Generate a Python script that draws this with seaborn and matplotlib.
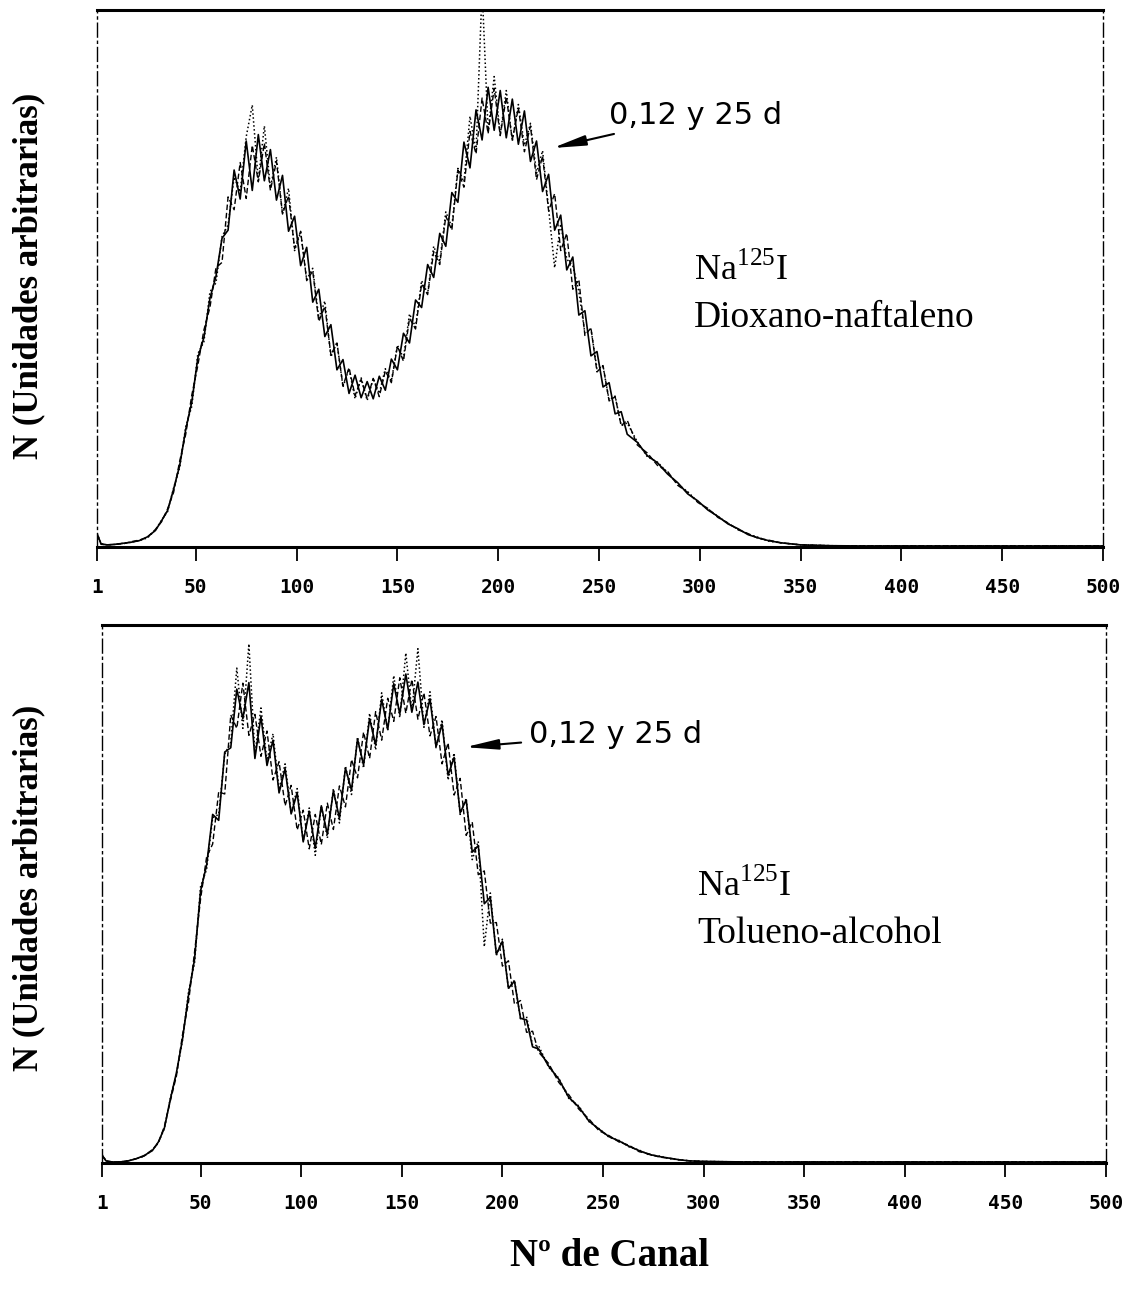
import matplotlib
matplotlib.use("Agg")
import matplotlib.pyplot as plt
import seaborn as sns

# ---------------- Na125I en dioxano-naftaleno ----------------
canal_dn = [1, 3, 6, 10, 14, 18, 22, 26, 30, 33, 36,
            39, 42, 45, 48, 51, 54, 57, 60,
            63, 66, 69, 72, 75, 78, 81, 84, 87, 90, 93, 96,
            99, 102, 105, 108, 111, 114, 117, 120, 123, 126, 129, 132,
            135, 138, 141, 144, 147, 150, 153, 156, 159, 162, 165, 168,
            171, 174, 177, 180, 183, 186, 189, 192, 195, 198, 201, 204,
            207, 210, 213, 216, 219, 222, 225, 228, 231, 234, 237, 240,
            243, 246, 249, 252, 255, 258, 261, 264,
            269, 274, 279, 284, 289, 294, 299, 304, 309, 314, 319, 324, 329, 334,
            340, 350, 365, 380, 400, 430, 460, 500]

dn_0d = [2.5, 0.6, 0.4, 0.5, 0.7, 0.9, 1.2, 1.9, 3.1, 4.9, 6.8,
         10.8, 15.2, 21.9, 27.0, 35.2, 39.0, 46.3, 50.4,
         57.5, 59.0, 70.2, 64.8, 75.6, 66.4, 76.8, 68.2, 74.0, 64.6, 69.2, 58.8,
         61.6, 52.4, 55.8, 45.6, 48.0, 39.2, 41.4, 33.0, 34.9, 28.6, 32.0, 27.8,
         30.8, 27.6, 31.8, 29.2, 35.0, 33.0, 39.8, 38.0, 46.0, 44.6, 52.6, 50.2,
         58.4, 56.0, 66.0, 64.2, 75.4, 70.6, 81.4, 75.8, 85.6, 77.6, 85.0, 76.2,
         83.4, 75.0, 81.2, 71.8, 75.6, 66.2, 69.4, 59.0, 61.8, 51.6, 54.0, 43.2,
         44.0, 35.6, 36.4, 29.8, 30.6, 24.8, 25.2, 21.0,
         19.5, 17.0, 15.7, 13.6, 12.0, 9.9, 8.6, 6.9, 5.7, 4.3, 3.4, 2.3, 1.7, 1.2,
         0.8, 0.4, 0.25, 0.2, 0.2, 0.2, 0.2, 0.2]

dn_12d = [2.3, 0.5, 0.4, 0.5, 0.6, 1.0, 1.3, 1.8, 3.3, 4.7, 7.1,
          10.2, 16.0, 21.0, 28.3, 33.8, 40.4, 44.6, 52.0,
          53.0, 65.2, 62.8, 71.6, 64.9, 74.8, 68.0, 75.2, 66.4, 71.8, 62.0, 65.4,
          55.6, 58.8, 49.6, 51.4, 42.0, 44.8, 35.8, 38.0, 30.0, 33.4, 28.2, 31.2,
          27.6, 31.4, 28.0, 32.8, 30.6, 37.4, 34.6, 42.6, 40.6, 49.0, 47.0, 55.0,
          52.6, 61.6, 59.0, 70.2, 67.0, 77.4, 73.2, 83.6, 77.0, 85.4, 76.6, 83.8,
          75.8, 81.8, 73.6, 78.4, 68.4, 72.8, 62.6, 65.8, 55.2, 58.4, 48.0, 49.8,
          39.4, 40.8, 32.6, 33.8, 27.2, 28.0, 22.6, 23.6,
          19.0, 17.5, 15.2, 14.1, 11.5, 10.2, 8.3, 7.2, 5.5, 4.5, 3.2, 2.5, 1.6, 1.3,
          0.8, 0.4, 0.25, 0.2, 0.2, 0.2, 0.2, 0.2]

dn_25d = [2.6, 0.6, 0.4, 0.5, 0.7, 0.9, 1.2, 1.7, 3.2, 5.0, 6.6,
          11.0, 14.8, 22.4, 26.2, 36.0, 38.2, 47.5, 49.2,
          57.8, 60.0, 68.9, 66.1, 76.4, 82.3, 68.2, 78.4, 66.9, 72.6, 62.0, 66.8,
          55.2, 58.6, 49.8, 51.9, 42.6, 45.8, 35.4, 38.1, 29.8, 33.2, 27.6, 31.5,
          27.3, 31.4, 28.6, 33.2, 30.9, 37.6, 35.2, 43.4, 41.0, 49.6, 47.2, 56.0,
          53.1, 62.4, 59.6, 70.5, 68.0, 80.2, 73.5, 104.0, 77.4, 87.6, 76.8, 85.0,
          75.6, 82.4, 74.8, 78.9, 69.6, 73.8, 63.0, 52.0, 60.2, 53.6, 52.4, 47.6,
          39.8, 40.6, 33.2, 33.6, 27.4, 28.1, 22.6, 23.1,
          19.6, 16.8, 15.8, 13.9, 11.7, 10.3, 8.4, 7.1, 5.7, 4.4, 3.3, 2.4, 1.8, 1.1,
          0.8, 0.4, 0.25, 0.2, 0.2, 0.2, 0.2, 0.2]

# ---------------- Na125I en tolueno-alcohol ----------------
canal_ta = [1, 3, 6, 10, 14, 18, 22, 26, 29, 32, 35,
            38, 41, 44, 47, 50, 53, 56, 59, 62, 65,
            68, 71, 74, 77, 80, 83, 86, 89, 92, 95,
            98, 101, 104, 107, 110, 113, 116, 119, 122, 125,
            128, 131, 134, 137, 140, 143, 146, 149, 152, 155,
            158, 161, 164, 167, 170, 173, 176, 179, 182, 185,
            188, 191, 194, 197, 200, 203, 206, 209, 212, 215,
            218,
            223, 228, 233, 238, 243, 248, 253, 258, 263, 268, 273, 278, 283, 288, 293,
            300, 320, 350, 380, 420, 460, 500]

ta_0d = [1.5, 0.4, 0.2, 0.2, 0.4, 0.8, 1.4, 2.3, 3.9, 6.5, 11.9,
         16.8, 23.0, 31.2, 37.9, 50.6, 55.4, 64.8, 63.7, 76.4, 77.2,
         88.1, 82.6, 89.3, 75.2, 83.0, 73.9, 78.6, 68.8, 73.3, 64.9,
         68.8, 59.7, 65.4, 58.5, 66.4, 61.1, 69.2, 64.1, 73.4, 69.3,
         78.8, 74.0, 82.6, 77.7, 86.2, 80.6, 89.1, 83.5, 90.9, 83.8,
         89.4, 81.5, 86.3, 77.4, 81.6, 72.1, 75.4, 65.1, 67.5, 57.8,
         59.0, 48.2, 49.4, 38.8, 41.2, 32.5, 33.8, 26.9, 26.6, 21.6,
         21.2,
         18.0, 15.6, 12.2, 10.4, 7.8, 6.3, 4.9, 4.1, 3.1, 2.3, 1.6, 1.2, 0.9, 0.6, 0.4,
         0.3, 0.2, 0.2, 0.2, 0.2, 0.2, 0.2]

ta_12d = [1.4, 0.4, 0.2, 0.2, 0.4, 0.8, 1.3, 2.5, 3.7, 6.8, 11.6,
          16.2, 23.8, 29.9, 39.2, 49.1, 56.9, 59.3, 69.0, 68.6, 83.3,
          80.8, 89.2, 79.5, 83.4, 75.6, 80.3, 71.2, 74.6, 66.4, 70.2,
          61.9, 65.6, 58.4, 64.8, 59.2, 66.9, 62.0, 70.1, 66.2, 75.0,
          71.6, 80.1, 75.2, 83.9, 78.6, 86.4, 82.1, 90.2, 83.6, 89.9,
          82.5, 87.4, 79.4, 83.0, 74.2, 78.1, 68.4, 71.5, 60.9, 63.4,
          53.6, 54.3, 44.6, 44.7, 36.6, 37.6, 29.5, 30.2, 24.3, 24.5,
          20.6,
          18.5, 15.0, 12.7, 10.0, 8.2, 6.0, 5.1, 3.9, 3.3, 2.1, 1.7, 1.1, 0.9, 0.6, 0.4,
          0.3, 0.2, 0.2, 0.2, 0.2, 0.2, 0.2]

ta_25d = [1.6, 0.4, 0.2, 0.2, 0.4, 0.8, 1.3, 2.4, 3.8, 6.4, 12.1,
          16.6, 22.8, 31.8, 37.2, 51.4, 54.6, 64.2, 64.8, 76.0, 78.2,
          92.0, 80.8, 96.5, 76.0, 84.6, 74.8, 79.8, 69.4, 74.2, 65.0,
          69.6, 59.8, 66.0, 57.2, 66.4, 60.4, 69.6, 63.2, 73.8, 68.5,
          79.2, 73.4, 83.6, 76.8, 87.4, 80.4, 90.6, 82.8, 94.8, 84.0,
          95.6, 81.0, 87.6, 77.2, 82.4, 71.2, 76.2, 64.8, 67.8, 56.4,
          59.8, 40.2, 50.2, 38.6, 41.6, 32.4, 34.0, 26.8, 27.2, 21.9,
          21.8,
          17.8, 15.8, 12.0, 10.6, 7.7, 6.4, 4.8, 4.2, 3.0, 2.4, 1.5, 1.3, 0.8, 0.6, 0.4,
          0.3, 0.2, 0.2, 0.2, 0.2, 0.2, 0.2]

canal_ticks = [1, 50, 100, 150, 200, 250, 300, 350, 400, 450, 500]

sns.set_theme(style="white")
plt.rcParams["font.family"] = ["DejaVu Sans"]
plt.rcParams["text.color"] = "black"
plt.rcParams["xtick.color"] = "black"
plt.rcParams["axes.labelcolor"] = "black"
plt.rcParams["mathtext.fontset"] = "custom"
plt.rcParams["mathtext.rm"] = "Liberation Serif"

fig = plt.figure(figsize=(11.27, 12.96), dpi=100)
ax_top = fig.add_axes([0.0861, 0.5779, 0.8926, 0.4144])
ax_bot = fig.add_axes([0.0905, 0.1026, 0.8909, 0.4151])

line_styles = [("0 d", "-", 1.2), ("12 d", (0, (4, 2)), 1.0), ("25 d", (0, (1, 1.6)), 1.1)]


def draw_panel(ax, canal, series, sample, note_xy, tip_xy):
    for (lab, ls, lw), vals in zip(line_styles, series):
        sns.lineplot(x=canal, y=vals, ax=ax, color="black", linestyle=ls,
                     linewidth=lw, estimator=None, sort=False, label=lab,
                     legend=False)
    ax.set_xlim(1, 500)
    ax.set_ylim(0, 100)
    ax.set_yticks([])
    ax.set_xticks(canal_ticks)
    ax.set_xticklabels([str(t) for t in canal_ticks], family="DejaVu Sans Mono",
                       fontsize=14, fontweight="bold", color="black")
    ax.tick_params(axis="x", direction="out", length=10, width=1.3,
                   pad=12, colors="black", bottom=True)
    ax.set_xlabel("")
    ax.set_ylabel("")
    for side in ("left", "right"):
        ax.spines[side].set_linestyle((0, (10, 3, 1.5, 3)))
        ax.spines[side].set_linewidth(1.0)
        ax.spines[side].set_color("black")
    for side in ("top", "bottom"):
        ax.spines[side].set_linewidth(2.2)
        ax.spines[side].set_color("black")

    ax.annotate("0,12 y 25 d", xy=tip_xy, xytext=note_xy, textcoords="data",
                ha="left", va="center", fontsize=22, family="DejaVu Sans",
                color="black",
                arrowprops=dict(arrowstyle="-|>,head_length=0.9,head_width=0.14",
                                color="black", lw=1.5, shrinkA=3, shrinkB=0))
    ax.text(0.593, 0.515, r"Na$^{125}$I", transform=ax.transAxes,
            ha="left", va="center", fontsize=26, family="Liberation Serif",
            color="black")
    ax.text(0.593, 0.427, sample, transform=ax.transAxes,
            ha="left", va="center", fontsize=27, family="Liberation Serif",
            color="black")


draw_panel(ax_top, canal_dn, [dn_0d, dn_12d, dn_25d], "Dioxano-naftaleno",
           (255, 80.4), (227, 74.3))
draw_panel(ax_bot, canal_ta, [ta_0d, ta_12d, ta_25d], "Tolueno-alcohol",
           (213, 79.6), (181.5, 77.3))

for yc in (1 - 276 / 1296, 1 - 888 / 1296):
    fig.text(0.026, yc, "N (Unidades arbitrarias)", rotation=90,
             ha="center", va="center", fontsize=25, fontweight="bold",
             family="Liberation Serif", color="black")

fig.text(0.541, 1 - 1257 / 1296, "Nº de Canal", ha="center", va="center",
         fontsize=28, fontweight="bold", family="Liberation Serif", color="black")

fig.savefig("out.png", dpi=100, facecolor="white")
